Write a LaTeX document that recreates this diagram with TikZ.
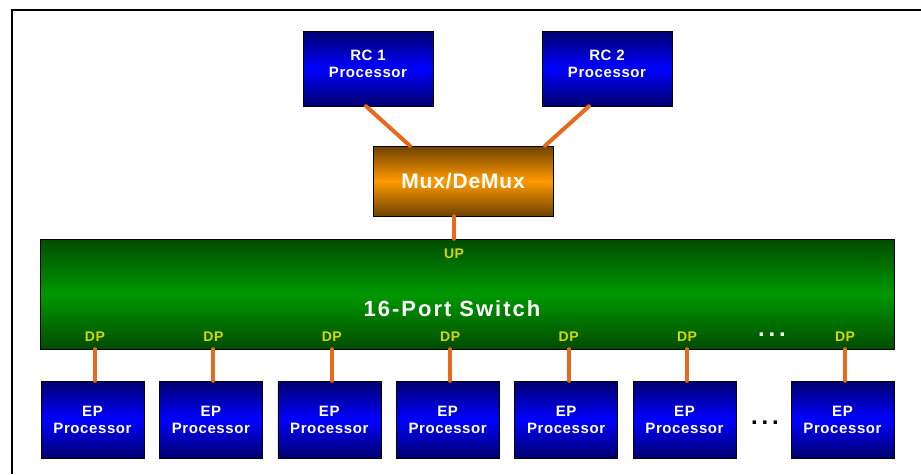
\documentclass[tikz,border=0pt]{standalone}
\usepackage{fontspec}
\setmainfont[LetterSpace=4]{Liberation Sans}
\usetikzlibrary{positioning}

\definecolor{linkorange}{RGB}{232,104,28}
\definecolor{portyellow}{RGB}{214,214,0}
\definecolor{procdark}{RGB}{0,0,110}
\definecolor{procmid}{RGB}{0,0,255}
\definecolor{muxdark}{RGB}{110,66,0}
\definecolor{muxmid}{RGB}{255,153,0}
\definecolor{swdark}{RGB}{0,76,0}
\definecolor{swmid}{RGB}{0,152,0}

\begin{document}
\begin{tikzpicture}[x=1pt,y=-1pt,node distance=118.4pt]
  \tikzstyle{every node}=[font=\bfseries,inner sep=0pt]
  \tikzstyle{proc}=[draw=black,text=white,align=center,
    top color=procdark,bottom color=procdark,middle color=procmid,
    font=\bfseries\fontsize{15}{17}\selectfont]
  \tikzstyle{rcbox}=[proc,minimum width=130pt,minimum height=75pt,text depth=10pt]
  \tikzstyle{epbox}=[proc,minimum width=103pt,minimum height=77pt]
  \tikzstyle{port}=[text=portyellow,font=\bfseries\fontsize{14}{14}\selectfont]
  \tikzstyle{dots}=[font=\bfseries\fontsize{24}{24}\selectfont\addfontfeature{LetterSpace=16}]
  \tikzstyle{link}=[linkorange,line width=4pt,line cap=round]

  \useasboundingbox (0,0) rectangle (921,474);
  \draw[line width=2pt] (12,474) -- (12,10) -- (921,10);

  % processors and mux
  \node[rcbox] (rc1) at (368,68.5) {RC 1\\Processor};
  \node[rcbox] (rc2) at (607,68.5) {RC 2\\Processor};
  \node[draw=black,text=white,minimum width=180pt,minimum height=70pt,
    top color=muxdark,bottom color=muxdark,middle color=muxmid,
    font=\bfseries\fontsize{21}{21}\selectfont] (mux) at (463,181) {Mux/DeMux};

  % switch
  \node[draw=black,text=white,minimum width=854pt,minimum height=110pt,
    top color=swdark,bottom color=swdark,middle color=swmid] (sw) at (467,294) {};
  \node[text=white,font=\bfseries\fontsize{22}{22}\selectfont\addfontfeature{LetterSpace=9}]
    (swlabel) at (452,309) {16-Port Switch};

  % endpoints
  \node[epbox] (ep1) at (92.5,419.5) {EP\\Processor};
  \foreach \i [count=\j from 2] in {1,...,5}
    \node[epbox, right of=ep\i] (ep\j) {EP\\Processor};
  \node[epbox] (ep7) at (842.5,419.5) {EP\\Processor};

  \node[dots] (epdots) at (765,423) {...};
  \node[dots,text=white] (swdots) at (772,335) {...};

  % ports
  \coordinate (up) at ([xshift=-9pt]mux.south |- sw.north);
  \node[port, below=10pt of up] (uplabel) {UP};
  \foreach \i in {1,...,7} {
    \coordinate (p\i) at ([xshift=2.5pt]ep\i.north |- sw.south);
    \node[port, above=8pt of p\i] (dp\i) {DP};
    \draw[link] (ep\i.north -| p\i) -- (p\i);
  }

  \draw[link] (mux.south -| up) -- (up);
  \draw[link] ([xshift=-2pt]rc1.south) -- ([xshift=-53pt]mux.north);
  \draw[link] ([xshift=-18pt]rc2.south) -- ([xshift=82pt]mux.north);
\end{tikzpicture}
\end{document}
